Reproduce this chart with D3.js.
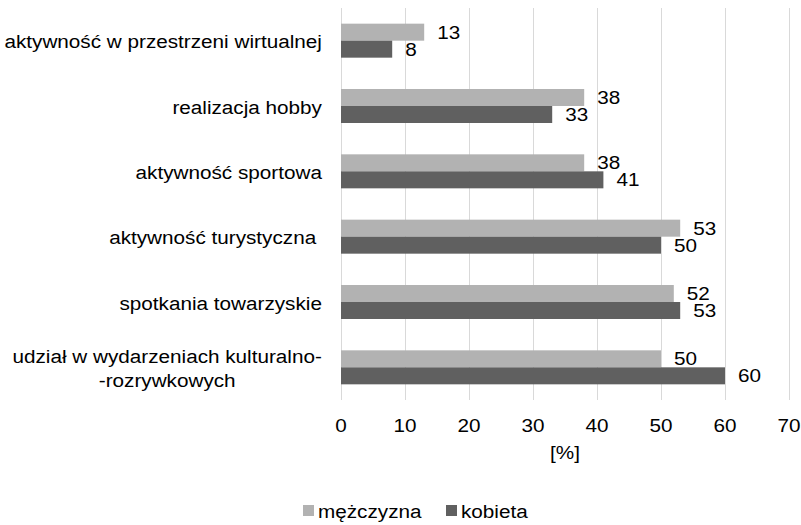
<!DOCTYPE html>
<html>
<head>
<meta charset="utf-8">
<script src="https://cdn.jsdelivr.net/npm/d3@7.9.0/dist/d3.min.js"></script>
<style>
  body { margin: 0; background: #fff; }
  text { font-family: "Liberation Sans", Arial, sans-serif; fill: #000; font-size: 19px; }
</style>
</head>
<body>
<svg id="chart" width="801" height="525"></svg>
<script>
// categories, top to bottom (each entry = lines of the label)
const categories = [
  ['aktywność w przestrzeni wirtualnej'],
  ['realizacja hobby'],
  ['aktywność sportowa'],
  ['aktywność turystyczna '],
  ['spotkania towarzyskie'],
  ['udział w wydarzeniach kulturalno-', '-rozrywkowych']
];
const seriesNames = ['mężczyzna', 'kobieta'];
const men = [13, 38, 38, 53, 52, 50];
const women = [8, 33, 41, 50, 53, 60];
const ticks = [0, 10, 20, 30, 40, 50, 60, 70];
const colors = ['#b2b2b2', '#606060'];

const svg = d3.select('#chart');
const plotLeft = 341, plotRight = 789, plotTop = 8, plotBottom = 400;
const sx = 1.09; // text in the original is a bit wider than tall

const x = d3.scaleLinear().domain([0, 70]).range([plotLeft, plotRight]);
const y = d3.scaleBand().domain(d3.range(categories.length)).range([plotTop, plotBottom]);
const barH = 17;

// put text at (px, py) with a slight horizontal stretch
function place(t, px, py) {
  return t.attr('transform', `translate(${px},${py}) scale(${sx},1)`);
}

// gridlines
svg.append('g').selectAll('line')
  .data(ticks)
  .join('line')
  .attr('x1', d => Math.round(x(d)) + 0.5)
  .attr('x2', d => Math.round(x(d)) + 0.5)
  .attr('y1', plotTop)
  .attr('y2', plotBottom)
  .attr('stroke', '#d9d9d9')
  .attr('stroke-width', 1);

// tick labels
svg.append('g').selectAll('text')
  .data(ticks)
  .join('text')
  .attr('transform', d => `translate(${x(d)},432) scale(${sx},1)`)
  .attr('text-anchor', 'middle')
  .text(d => d);

place(svg.append('text'), 565, 459)
  .attr('text-anchor', 'middle')
  .text('[%]');

// bars
const series = [men, women];
series.forEach((vals, s) => {
  const g = svg.append('g');
  g.selectAll('rect')
    .data(vals)
    .join('rect')
    .attr('x', x(0))
    .attr('y', (d, i) => y(i) + y.bandwidth() / 2 - barH + s * barH)
    .attr('width', d => x(d) - x(0))
    .attr('height', barH)
    .attr('fill', colors[s]);
  g.selectAll('text')
    .data(vals)
    .join('text')
    .attr('transform', (d, i) =>
      `translate(${x(d) + 13},${y(i) + y.bandwidth() / 2 - barH / 2 + s * barH}) scale(${sx},1)`)
    .attr('dy', '0.35em')
    .text(d => d);
});

// category labels: block right-aligned, lines centered within it
categories.forEach((lines, i) => {
  const g = svg.append('g');
  const lh = 24;
  const cy = y(i) + y.bandwidth() / 2 + 1;
  const texts = lines.map((ln, k) => g.append('text')
    .attr('dy', '0.35em')
    .attr('text-anchor', 'middle')
    .style('white-space', 'pre')
    .text(ln));
  const w = d3.max(texts, t => t.node().getComputedTextLength()) * sx;
  const cx = 322 - w / 2;
  texts.forEach((t, k) => place(t, cx, cy + (k - (lines.length - 1) / 2) * lh));
});

// legend
const legend = svg.append('g');
const legX = [303, 446];
seriesNames.forEach((name, s) => {
  legend.append('rect')
    .attr('x', legX[s])
    .attr('y', 505)
    .attr('width', 11)
    .attr('height', 11)
    .attr('fill', colors[s]);
  place(legend.append('text'), legX[s] + 15, 511)
    .attr('dy', '0.35em')
    .text(name);
});
</script>
</body>
</html>
